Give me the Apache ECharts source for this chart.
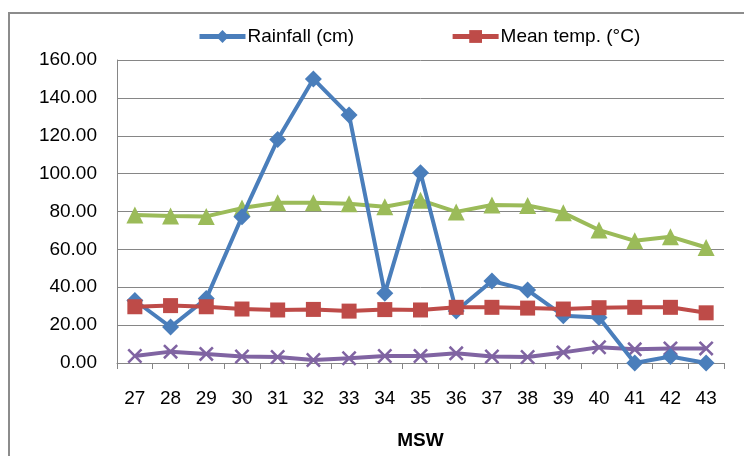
<!DOCTYPE html>
<html><head><meta charset="utf-8">
<script src="https://cdn.jsdelivr.net/npm/echarts@6/dist/echarts.min.js"></script>
<style>
html,body{margin:0;padding:0;background:#fff;}
#frame{position:absolute;left:8px;top:12px;width:800px;height:500px;border:2px solid #8c8c8c;box-sizing:border-box;}
#c{position:absolute;left:0;top:0;width:744px;height:456px;}
</style></head>
<body>
<div id="frame"></div>
<div id="c"></div>
<script>
const weeks = ['27','28','29','30','31','32','33','34','35','36','37','38','39','40','41','42','43'];
const rainfall = [33, 19, 34, 77.2, 118, 150, 130.9, 36.8, 100.4, 27.5, 43.3, 38.5, 25, 24, 0, 3.4, 0];
const meanTemp = [29.7, 30.3, 29.7, 28.5, 28, 28.3, 27.4, 28.2, 28, 29.4, 29.4, 29, 28.5, 29.2, 29.4, 29.4, 26.5];
const humidity = [78.1, 77.6, 77.4, 81.8, 84.6, 84.6, 84.1, 82.5, 86, 79.8, 83.4, 83.2, 79.3, 70.2, 64.5, 66.7, 61];
const windSpeed = [3.7, 6, 4.8, 3.4, 3.2, 1.6, 2.5, 3.7, 3.7, 5.1, 3.4, 3.2, 5.6, 8.3, 7.2, 7.7, 7.7];
const yTicks = [0, 20, 40, 60, 80, 100, 120, 140, 160];

const FONT = '"Liberation Sans Narrow", "Liberation Sans", Arial, sans-serif';
const crossPath = 'path://M0,0.12L0.12,0L0.5,0.38L0.88,0L1,0.12L0.62,0.5L1,0.88L0.88,1L0.5,0.62L0.12,1L0,0.88L0.38,0.5Z';

const chart = echarts.init(document.getElementById('c'));
chart.setOption({
  animation: false,
  backgroundColor: 'transparent',
  textStyle: {fontFamily: FONT},
  legend: {
    data: ['Rainfall (cm)', 'Mean temp. (°C)'],
    left: 192, top: 22,
    itemWidth: 46, itemHeight: 16, itemGap: 96,
    lineStyle: {width: 5},
    textStyle: {fontFamily: FONT, fontSize: 19, color: '#000', padding: [0,0,0,-3]}
  },
  grid: {left: 117, right: 20, top: 60, bottom: 93},
  xAxis: {
    type: 'category', data: weeks, boundaryGap: true,
    name: 'MSW', nameLocation: 'middle', nameGap: 68,
    nameTextStyle: {fontFamily: FONT, fontSize: 19, fontWeight: 'bold', color: '#000'},
    axisLine: {lineStyle: {color: '#868686', width: 1}},
    axisTick: {show: true, length: 6, lineStyle: {color: '#868686'}},
    axisLabel: {fontFamily: FONT, fontSize: 19, color: '#000', margin: 26}
  },
  yAxis: {
    type: 'value', min: yTicks[0], max: yTicks[yTicks.length-1], interval: 20,
    axisLine: {show: true, lineStyle: {color: '#868686', width: 1}},
    axisTick: {show: false},
    splitLine: {lineStyle: {color: '#868686', width: 1}},
    axisLabel: {fontFamily: FONT, fontSize: 19, color: '#000', margin: 20,
      formatter: v => v.toFixed(2)}
  },
  series: [
    {name: 'Relative humidity (%)', type: 'line', data: humidity, symbol: 'triangle', symbolSize: 17,
     lineStyle: {color: '#9BBB59', width: 4}, itemStyle: {color: '#9BBB59'}, z: 2},
    {name: 'Wind speed', type: 'line', data: windSpeed, symbol: crossPath, symbolSize: 15,
     lineStyle: {color: '#8064A2', width: 4}, itemStyle: {color: '#8064A2'}, z: 2},
    {name: 'Rainfall (cm)', type: 'line', data: rainfall, symbol: 'diamond', symbolSize: 17,
     lineStyle: {color: '#4A7EBB', width: 4}, itemStyle: {color: '#4A7EBB'}, z: 3},
    {name: 'Mean temp. (°C)', type: 'line', data: meanTemp, symbol: 'rect', symbolSize: 15,
     lineStyle: {color: '#BE4B48', width: 4}, itemStyle: {color: '#BE4B48'}, z: 4}
  ]
});
</script>
</body></html>
